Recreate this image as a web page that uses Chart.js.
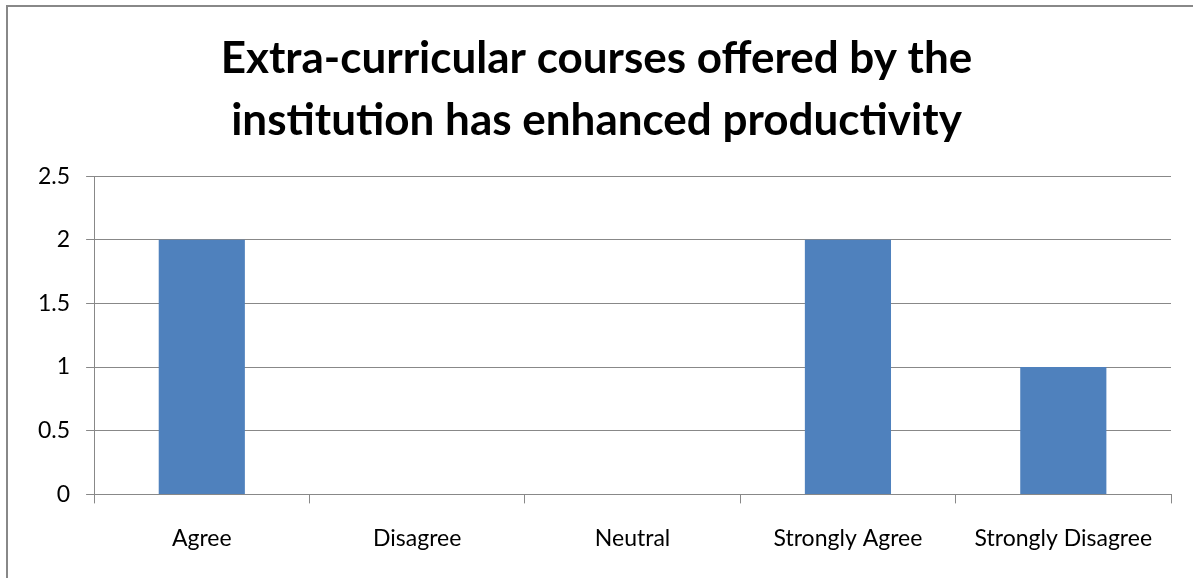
<!DOCTYPE html>
<html>
<head>
<meta charset="utf-8">
<title>Extra-curricular courses</title>
<script src="https://cdn.jsdelivr.net/npm/chart.js@4"></script>
<style>
  html, body { margin: 0; padding: 0; background: #fff; overflow: hidden; }
  #frame {
    position: absolute; left: 6px; top: 5px;
    width: 1240px; height: 640px;
    border: 2px solid #888; box-sizing: border-box;
  }
  #wrap { position: absolute; left: 0; top: 0; width: 1193px; height: 578px; }
</style>
</head>
<body>
<div id="frame"></div>
<div id="wrap"><canvas id="myChart"></canvas></div>
<script>
const categories = ["Agree", "Disagree", "Neutral", "Strongly Agree", "Strongly Disagree"];
const responses = [2, 0, 0, 2, 1];
const yTicks = [0, 0.5, 1, 1.5, 2, 2.5];
const chartTitle = ["Extra-curricular courses offered by the", "institution has enhanced productivity"];

const ctx = document.getElementById("myChart");
const gray = "#888888";

new Chart(ctx, {
  type: "bar",
  data: {
    labels: categories,
    datasets: [
      {
        label: "Responses",
        data: responses,
        backgroundColor: "#4F81BD",
        borderWidth: 0,
        barPercentage: 0.4,
        categoryPercentage: 1
      }
    ]
  },
  options: {
    responsive: true,
    maintainAspectRatio: false,
    animation: false,
    layout: {
      padding: { left: 22, right: 22, top: 12, bottom: 5 }
    },
    plugins: {
      legend: { display: false },
      tooltip: { enabled: false },
      title: {
        display: true,
        text: chartTitle,
        color: "#000",
        font: { family: "Lato", size: 44, weight: "bold", lineHeight: 1.41 },
        padding: { top: 16, bottom: 24 }
      }
    },
    scales: {
      x: {
        offset: true,
        grid: {
          offset: true,
          drawOnChartArea: false,
          drawTicks: true,
          tickLength: 9,
          color: gray
        },
        border: { color: gray, width: 1 },
        ticks: {
          color: "#000",
          padding: 21,
          font: { family: "Lato", size: 23 }
        }
      },
      y: {
        min: 0,
        max: 2.5,
        afterBuildTicks: axis => {
          axis.ticks = yTicks.map(v => ({ value: v }));
        },
        grid: {
          color: gray,
          tickLength: 8
        },
        border: { color: gray, width: 1 },
        ticks: {
          color: "#000",
          padding: 16,
          font: { family: "Lato", size: 23 },
          callback: v => String(v)
        }
      }
    }
  }
});
</script>
</body>
</html>
